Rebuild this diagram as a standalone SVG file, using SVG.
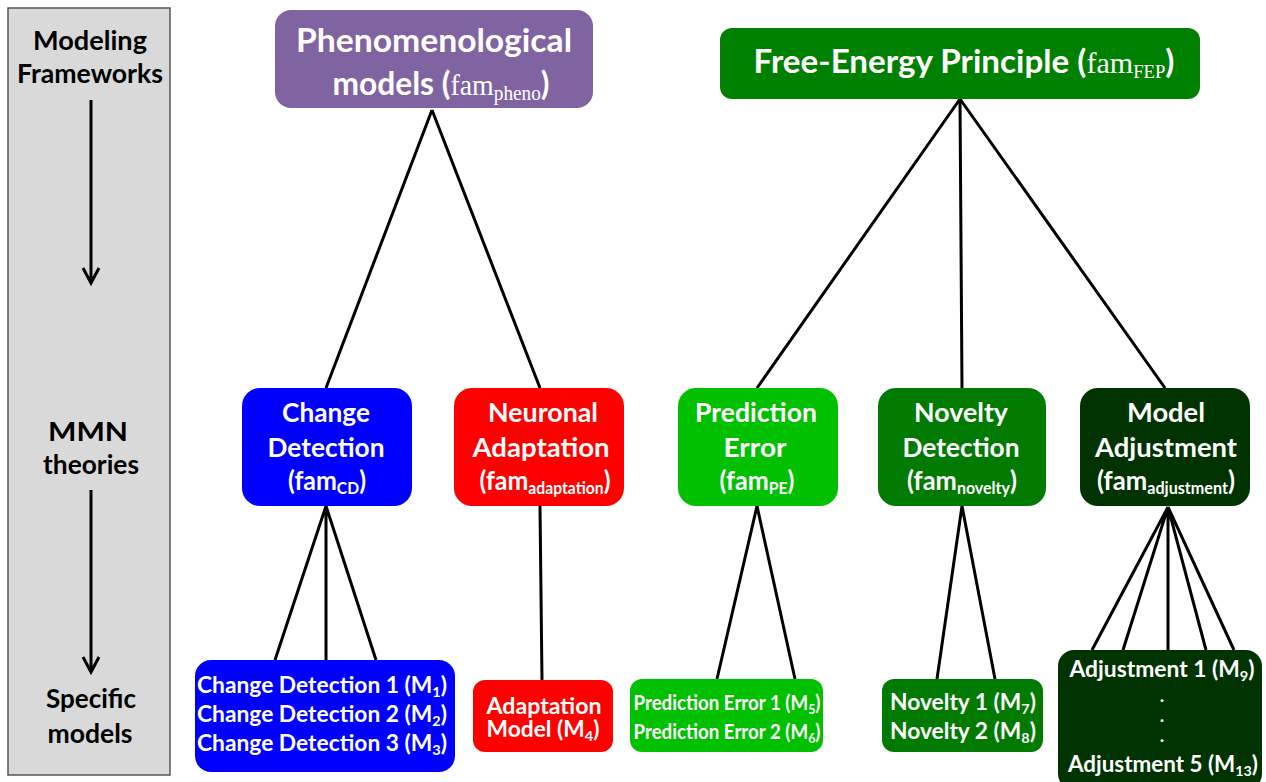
<svg xmlns="http://www.w3.org/2000/svg" width="1266" height="782" viewBox="0 0 1266 782">
<style>
text{font-family:Lato,"Open Sans",sans-serif;font-weight:bold;text-anchor:middle}
.w{fill:#fff}
.k{fill:#000;font-size:26px}
.serif{font-family:"Liberation Serif",serif;font-weight:normal}
.ln{stroke:#000;stroke-width:3;fill:none}
.mid{font-size:27px}
.bot{font-size:22px}
.pe{font-size:21px}
.dot{font-size:17px;font-weight:900}
</style>
<rect width="1266" height="782" fill="#fff"/>
<g id="side">
<rect x="8" y="8" width="162" height="767" fill="#d9d9d9" stroke="#555" stroke-width="1.5"/>
<text class="k" x="90" y="50" textLength="114" lengthAdjust="spacingAndGlyphs">Modeling</text>
<text class="k" x="90" y="83" textLength="146" lengthAdjust="spacingAndGlyphs">Frameworks</text>
<text class="k" x="88" y="441" textLength="80" lengthAdjust="spacingAndGlyphs">MMN</text>
<text class="k" x="91" y="474" textLength="96" lengthAdjust="spacingAndGlyphs">theories</text>
<text class="k" x="91" y="708" textLength="90" lengthAdjust="spacingAndGlyphs">Specific</text>
<text class="k" x="90" y="743" textLength="85" lengthAdjust="spacingAndGlyphs">models</text>
<path class="ln" d="M91,100 L91,283 M83,268 L91,283 L99,268"/>
<path class="ln" d="M91,490 L91,672 M83,657 L91,672 L99,657"/>
</g>
<g id="connectors">
<path class="ln" d="M432,110 L326,388 M432,110 L540,388"/>
<path class="ln" d="M960,99 L757,388 M960,99 L962,388 M960,99 L1165,388"/>
<path class="ln" d="M326,506 L275,660 M326,506 L326,660 M326,506 L376,660"/>
<path class="ln" d="M540,506 L542,680"/>
<path class="ln" d="M757,506 L717,679 M757,506 L795,679"/>
<path class="ln" d="M962,506 L937,679 M962,506 L995,679"/>
<path class="ln" d="M1168,507 L1092,650 M1168,507 L1123,650 M1168,507 L1168,650 M1168,507 L1206,650 M1168,507 L1234,650"/>
</g>
<g id="pheno">
<rect x="275" y="10" width="318" height="98" rx="16" fill="#8064a2"/>
<text class="w" x="434" y="52" font-size="33" textLength="276" lengthAdjust="spacingAndGlyphs">Phenomenological</text>
<text class="w" x="441" y="95" font-size="33" textLength="217" lengthAdjust="spacingAndGlyphs">models (<tspan class="serif" font-size="29">fam</tspan><tspan class="serif" font-size="20" dy="5">pheno</tspan><tspan dy="-5">)</tspan></text>
</g>
<g id="fep">
<rect x="720" y="28" width="480" height="71" rx="12" fill="#008000"/>
<text class="w" x="964" y="73" font-size="32" textLength="421" lengthAdjust="spacingAndGlyphs">Free-Energy Principle (<tspan class="serif" font-size="29">fam</tspan><tspan class="serif" font-size="18" dy="5">FEP</tspan><tspan dy="-5">)</tspan></text>
</g>
<g id="cd">
<rect x="242" y="388" width="170" height="118" rx="18" fill="#0000ff"/>
<text class="w mid" x="326" y="422" textLength="88" lengthAdjust="spacingAndGlyphs">Change</text>
<text class="w mid" x="326" y="457" textLength="117" lengthAdjust="spacingAndGlyphs">Detection</text>
<text class="w mid" x="327" y="490" textLength="78" lengthAdjust="spacingAndGlyphs">(fam<tspan font-size="17" dy="4">CD</tspan><tspan dy="-4">)</tspan></text>
</g>
<g id="na">
<rect x="454" y="388" width="170" height="118" rx="18" fill="#ff0000"/>
<text class="w mid" x="543" y="422" textLength="110" lengthAdjust="spacingAndGlyphs">Neuronal</text>
<text class="w mid" x="541" y="457" textLength="137" lengthAdjust="spacingAndGlyphs">Adaptation</text>
<text class="w mid" x="545" y="490" textLength="131" lengthAdjust="spacingAndGlyphs">(fam<tspan font-size="17" dy="4">adaptation</tspan><tspan dy="-4">)</tspan></text>
</g>
<g id="pe">
<rect x="678" y="388" width="160" height="118" rx="18" fill="#00c000"/>
<text class="w mid" x="756" y="422" textLength="122" lengthAdjust="spacingAndGlyphs">Prediction</text>
<text class="w mid" x="755" y="457" textLength="63" lengthAdjust="spacingAndGlyphs">Error</text>
<text class="w mid" x="757" y="490" textLength="75" lengthAdjust="spacingAndGlyphs">(fam<tspan font-size="17" dy="4">PE</tspan><tspan dy="-4">)</tspan></text>
</g>
<g id="nd">
<rect x="878" y="388" width="168" height="118" rx="18" fill="#007a00"/>
<text class="w mid" x="961" y="422" textLength="94" lengthAdjust="spacingAndGlyphs">Novelty</text>
<text class="w mid" x="961" y="457" textLength="117" lengthAdjust="spacingAndGlyphs">Detection</text>
<text class="w mid" x="962" y="490" textLength="110" lengthAdjust="spacingAndGlyphs">(fam<tspan font-size="17" dy="4">novelty</tspan><tspan dy="-4">)</tspan></text>
</g>
<g id="ma">
<rect x="1080" y="388" width="170" height="118" rx="18" fill="#003300"/>
<text class="w mid" x="1166" y="422" textLength="78" lengthAdjust="spacingAndGlyphs">Model</text>
<text class="w mid" x="1166" y="457" textLength="142" lengthAdjust="spacingAndGlyphs">Adjustment</text>
<text class="w mid" x="1166" y="490" textLength="138" lengthAdjust="spacingAndGlyphs">(fam<tspan font-size="17" dy="4">adjustment</tspan><tspan dy="-4">)</tspan></text>
</g>
<g id="m1-3">
<rect x="195" y="660" width="260" height="112" rx="16" fill="#0000ff"/>
<text class="w bot" x="322" y="693" textLength="250" lengthAdjust="spacingAndGlyphs">Change Detection 1 (M<tspan font-size="14" dy="4">1</tspan><tspan dy="-4">)</tspan></text>
<text class="w bot" x="322" y="722" textLength="250" lengthAdjust="spacingAndGlyphs">Change Detection 2 (M<tspan font-size="14" dy="4">2</tspan><tspan dy="-4">)</tspan></text>
<text class="w bot" x="322" y="751" textLength="250" lengthAdjust="spacingAndGlyphs">Change Detection 3 (M<tspan font-size="14" dy="4">3</tspan><tspan dy="-4">)</tspan></text>
</g>
<g id="m4">
<rect x="473" y="680" width="140" height="72" rx="12" fill="#ff0000"/>
<text class="w bot" x="544" y="714" textLength="115" lengthAdjust="spacingAndGlyphs">Adaptation</text>
<text class="w bot" x="543" y="737" textLength="113" lengthAdjust="spacingAndGlyphs">Model (M<tspan font-size="14" dy="4">4</tspan><tspan dy="-4">)</tspan></text>
</g>
<g id="m5-6">
<rect x="630" y="679" width="193" height="73" rx="12" fill="#00c000"/>
<text class="w pe" x="727" y="710" textLength="187" lengthAdjust="spacingAndGlyphs">Prediction Error 1 (M<tspan font-size="14" dy="4">5</tspan><tspan dy="-4">)</tspan></text>
<text class="w pe" x="727" y="739" textLength="187" lengthAdjust="spacingAndGlyphs">Prediction Error 2 (M<tspan font-size="14" dy="4">6</tspan><tspan dy="-4">)</tspan></text>
</g>
<g id="m7-8">
<rect x="882" y="679" width="161" height="73" rx="12" fill="#007a00"/>
<text class="w bot" x="963" y="710" textLength="146" lengthAdjust="spacingAndGlyphs">Novelty 1 (M<tspan font-size="14" dy="4">7</tspan><tspan dy="-4">)</tspan></text>
<text class="w bot" x="963" y="739" textLength="146" lengthAdjust="spacingAndGlyphs">Novelty 2 (M<tspan font-size="14" dy="4">8</tspan><tspan dy="-4">)</tspan></text>
</g>
<g id="m9-13">
<rect x="1058" y="650" width="204" height="140" rx="16" fill="#003300"/>
<text class="w bot" x="1162" y="677" textLength="185" lengthAdjust="spacingAndGlyphs">Adjustment 1 (M<tspan font-size="14" dy="4">9</tspan><tspan dy="-4">)</tspan></text>
<text class="w dot" x="1162" y="702">.</text>
<text class="w dot" x="1162" y="722">.</text>
<text class="w dot" x="1162" y="742">.</text>
<text class="w bot" x="1163" y="772" textLength="190" lengthAdjust="spacingAndGlyphs">Adjustment 5 (M<tspan font-size="14" dy="4">13</tspan><tspan dy="-4">)</tspan></text>
</g>
</svg>
